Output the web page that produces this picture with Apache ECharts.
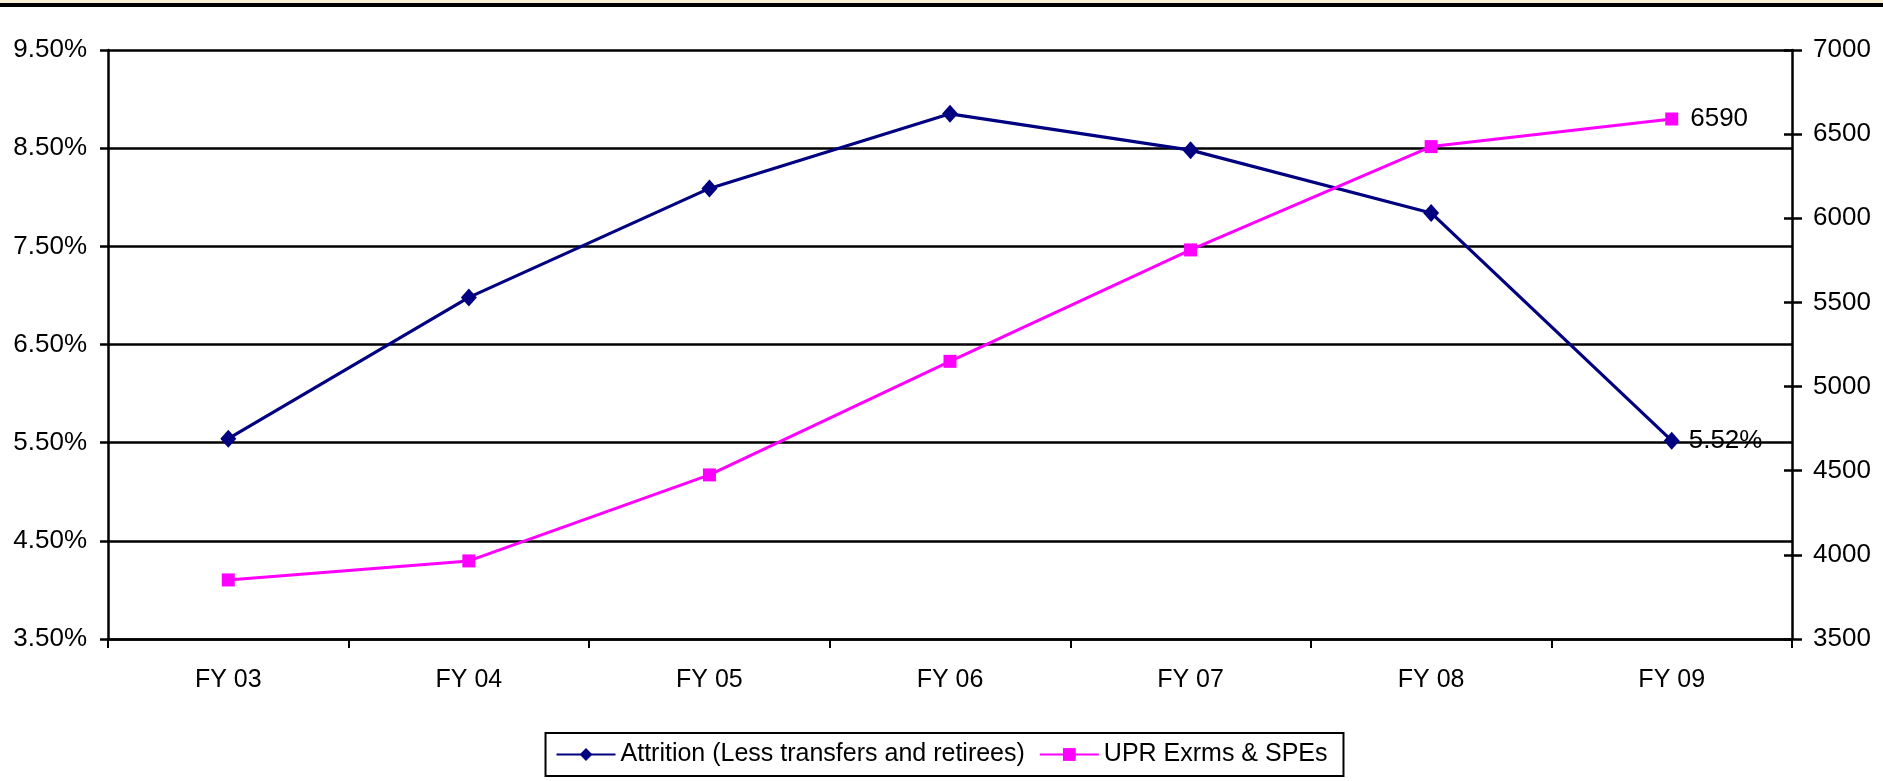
<!DOCTYPE html>
<html>
<head>
<meta charset="utf-8">
<title>Attrition and UPR Exrms &amp; SPEs, FY 03 – FY 09</title>
<script src="https://cdn.jsdelivr.net/npm/echarts@6/dist/echarts.min.js"></script>
<style>
  html, body { margin: 0; padding: 0; background: #ffffff; }
  #chart { width: 1883px; height: 781px; }
</style>
</head>
<body>
<div id="chart"></div>
<script>
// Fiscal years on the category axis
const years = ['FY 03', 'FY 04', 'FY 05', 'FY 06', 'FY 07', 'FY 08', 'FY 09'];

// Attrition rate in percent (left axis)
const attritionPct = [5.54, 6.98, 8.09, 8.85, 8.48, 7.84, 5.52];

// UPR examiners and SPEs head count (right axis)
const uprCount = [3851, 3964, 4475, 5150, 5812, 6426, 6590];

const seriesNames = ['Attrition (Less transfers and retirees)', 'UPR Exrms & SPEs'];

const FONT = 'Arial';
const chart = echarts.init(document.getElementById('chart'), null, { renderer: 'canvas' });

const lastIdx = years.length - 1;

chart.setOption({
  backgroundColor: '#ffffff',
  animation: false,
  textStyle: { fontFamily: FONT, fontSize: 25, color: '#000' },
  graphic: [
    { type: 'rect', shape: { x: 0, y: 0, width: 1883, height: 3 }, style: { fill: '#fbefd6' }, silent: true },
    { type: 'rect', shape: { x: 0, y: 3, width: 1883, height: 4 }, style: { fill: '#000000' }, silent: true }
  ],
  grid: { left: 108, right: 91, top: 50, bottom: 142, containLabel: false },
  legend: {
    data: seriesNames,
    bottom: 5,
    left: 'center',
    orient: 'horizontal',
    borderColor: '#000',
    borderWidth: 2,
    padding: [9, 16, 9, 10],
    itemGap: 14,
    itemWidth: 59,
    itemHeight: 16,
    textStyle: { fontFamily: FONT, fontSize: 25, color: '#000' }
  },
  xAxis: {
    type: 'category',
    data: years,
    boundaryGap: true,
    axisLine: { lineStyle: { color: '#000', width: 2.5 } },
    axisTick: { show: true, length: 9, inside: false, lineStyle: { color: '#000', width: 2 } },
    axisLabel: { fontFamily: FONT, fontSize: 25, color: '#000', margin: 29 },
    splitLine: { show: false }
  },
  yAxis: [
    {
      type: 'value',
      position: 'left',
      min: 3.5,
      max: 9.5,
      interval: 1,
      axisLine: { show: true, lineStyle: { color: '#000', width: 2.5 } },
      axisTick: { show: true, length: 8, inside: false, lineStyle: { color: '#000', width: 2.5 } },
      axisLabel: {
        fontFamily: FONT, fontSize: 26, color: '#000', margin: 21,
        formatter: v => v.toFixed(2) + '%'
      },
      splitLine: { show: true, lineStyle: { color: '#000', width: 2.6 } }
    },
    {
      type: 'value',
      position: 'right',
      min: 3500,
      max: 7000,
      interval: 500,
      axisLine: { show: true, lineStyle: { color: '#000', width: 2.5 } },
      axisTick: { show: true, length: 10, inside: false, lineStyle: { color: '#000', width: 2.5 } },
      axisLabel: {
        fontFamily: FONT, fontSize: 26, color: '#000', margin: 21,
        formatter: v => String(v)
      },
      splitLine: { show: false }
    },
    {
      // inner half of the right-hand tick marks
      type: 'value',
      position: 'right',
      min: 3500,
      max: 7000,
      interval: 500,
      axisLine: { show: false },
      axisTick: { show: true, length: 8, inside: true, lineStyle: { color: '#000', width: 2.5 } },
      axisLabel: { show: false },
      splitLine: { show: false }
    }
  ],
  series: [
    {
      name: seriesNames[0],
      type: 'line',
      yAxisIndex: 0,
      data: attritionPct,
      symbol: 'diamond',
      symbolSize: [16, 18],
      showAllSymbol: true,
      lineStyle: { color: '#000080', width: 3.2 },
      itemStyle: { color: '#000080' },
      label: {
        show: true,
        position: 'right',
        distance: 9,
        fontFamily: FONT,
        fontSize: 26,
        color: '#000',
        formatter: p => p.dataIndex === lastIdx ? attritionPct[lastIdx].toFixed(2) + '%' : ''
      },
      z: 3
    },
    {
      name: seriesNames[1],
      type: 'line',
      yAxisIndex: 1,
      data: uprCount,
      symbol: 'rect',
      symbolSize: 13,
      showAllSymbol: true,
      lineStyle: { color: '#ff00ff', width: 3 },
      itemStyle: { color: '#ff00ff' },
      label: {
        show: true,
        position: 'right',
        distance: 12,
        fontFamily: FONT,
        fontSize: 26,
        color: '#000',
        formatter: p => p.dataIndex === lastIdx ? String(uprCount[lastIdx]) : ''
      },
      z: 4
    }
  ]
});
</script>
</body>
</html>
